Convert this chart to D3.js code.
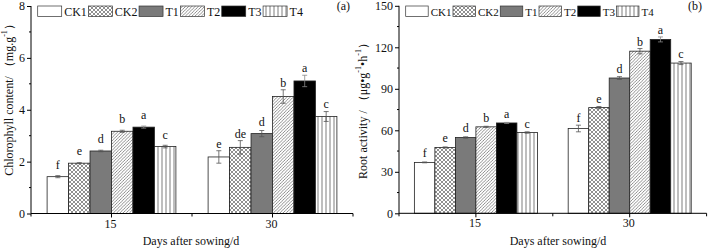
<!DOCTYPE html>
<html lang="en">
<head>
<meta charset="UTF-8">
<title>Chlorophyll and root activity</title>
<script src="https://cdn.jsdelivr.net/npm/d3@7/dist/d3.min.js"></script>
<style>
  body { margin: 0; background: #fff; }
  text { font-family: "Liberation Serif", "Times New Roman", serif; fill: #111; }
</style>
</head>
<body>
<svg id="chart" width="709" height="250"></svg>
<script>
// ---- data ----
const treatments = ['CK1', 'CK2', 'T1', 'T2', 'T3', 'T4']
const days = ['15', '30']

const chl15 = [1.42, 1.94, 2.41, 3.17, 3.33, 2.58]
const chl15Err = [0.04, 0.02, 0.03, 0.04, 0.04, 0.05]
const chl15Sig = ['f', 'e', 'd', 'b', 'a', 'c']
const chl30 = [2.18, 2.55, 3.08, 4.51, 5.11, 3.74]
const chl30Err = [0.24, 0.26, 0.12, 0.26, 0.22, 0.19]
const chl30Sig = ['e', 'de', 'd', 'b', 'a', 'c']

const root15 = [36.8, 47.6, 54.8, 62.5, 65.3, 58.4]
const root15Err = [0.3, 0.4, 0.5, 0.4, 0.4, 0.5]
const root15Sig = ['f', 'e', 'd', 'b', 'a', 'c']
const root30 = [61.3, 76.4, 97.8, 117.2, 125.7, 108.6]
const root30Err = [2.4, 0.8, 1.0, 1.9, 1.8, 1.1]
const root30Sig = ['f', 'e', 'd', 'b', 'a', 'c']

const chlTicks = [0, 2, 4, 6, 8]
const rootTicks = [0, 30, 60, 90, 120, 150]

const svg = d3.select('#chart')
const defs = svg.append('defs')

// hatch patterns
const pCross = defs.append('pattern').attr('id', 'cross')
  .attr('width', 4).attr('height', 4).attr('patternUnits', 'userSpaceOnUse')
pCross.append('rect').attr('width', 4).attr('height', 4).attr('fill', '#fff')
pCross.append('path').attr('d', 'M0,0L4,4M4,0L0,4')
  .attr('stroke', '#444').attr('stroke-width', 0.6)

const pDiag = defs.append('pattern').attr('id', 'diag')
  .attr('width', 3.2).attr('height', 3.2).attr('patternUnits', 'userSpaceOnUse')
pDiag.append('rect').attr('width', 3.2).attr('height', 3.2).attr('fill', '#fff')
pDiag.append('path').attr('d', 'M-0.8,0.8L0.8,-0.8M0,3.2L3.2,0M2.4,4L4,2.4')
  .attr('stroke', '#444').attr('stroke-width', 0.6)

const pVert = defs.append('pattern').attr('id', 'vert')
  .attr('width', 4).attr('height', 4).attr('patternUnits', 'userSpaceOnUse')
pVert.append('rect').attr('width', 4).attr('height', 4).attr('fill', '#fff')
pVert.append('path').attr('d', 'M2,0L2,4')
  .attr('stroke', '#444').attr('stroke-width', 0.7)

const fills = ['#fff', 'url(#cross)', '#7a7a7a', 'url(#diag)', '#000', 'url(#vert)']

function panel(opt) {
  const g = svg.append('g')

  const x = d3.scaleBand().domain(days).range([opt.x0, opt.x1])
    .paddingInner(0.2).paddingOuter(0.1)
  const x1 = d3.scaleBand().domain(treatments).range([0, x.bandwidth()])
  const y = d3.scaleLinear().domain(opt.domain).range([opt.yBottom, opt.yTop])

  // bars
  opt.series.forEach((s, di) => {
    const day = days[di]
    treatments.forEach((t, i) => {
      const bx = x(day) + x1(t)
      const bw = x1.bandwidth()
      g.append('rect')
        .attr('x', bx).attr('y', y(s.values[i]))
        .attr('width', bw).attr('height', y(0) - y(s.values[i]))
        .attr('fill', fills[i]).attr('stroke', '#222').attr('stroke-width', 0.8)

      const cx = bx + bw / 2
      const hi = y(s.values[i] + s.err[i]), lo = y(s.values[i] - s.err[i])
      g.append('path')
        .attr('d', `M${cx},${lo}L${cx},${hi}M${cx - 2.5},${hi}L${cx + 2.5},${hi}M${cx - 2.5},${lo}L${cx + 2.5},${lo}`)
        .attr('stroke', i === 4 ? '#888' : '#555').attr('stroke-width', 0.8).attr('fill', 'none')

      const ly = Math.min(hi - 3, y(s.values[i]) - opt.letterGap)
      g.append('text').text(s.sig[i])
        .attr('x', cx).attr('y', ly)
        .attr('text-anchor', 'middle').attr('font-size', '12px')
    })
  })

  // y axis
  const yAxis = d3.axisLeft(y).tickValues(opt.ticks).tickSize(4).tickPadding(2)
  const ya = g.append('g').attr('transform', `translate(${opt.x0},0)`).call(yAxis)
  ya.select('.domain').attr('d', `M0,${opt.yBottom}V${opt.yTop}`)
  ya.selectAll('text').attr('font-size', '12px')
  const minor = d3.pairs(opt.ticks).map(p => (p[0] + p[1]) / 2)
  ya.selectAll('.minor').data(minor).join('line')
    .attr('x1', -2).attr('x2', 0).attr('y1', d => y(d)).attr('y2', d => y(d))
    .attr('stroke', '#000')

  // x axis
  const xa = g.append('g').attr('transform', `translate(0,${opt.yBottom})`)
  xa.append('line').attr('x1', opt.x0).attr('x2', opt.x1).attr('stroke', '#000')
  const step = x.step()
  const bounds = [opt.x0, opt.x0 + step, opt.x1]
  xa.selectAll('.bt').data(bounds).join('line')
    .attr('x1', d => d).attr('x2', d => d).attr('y1', 0).attr('y2', 3).attr('stroke', '#000')
  xa.selectAll('.mt').data(days).join('line')
    .attr('x1', d => x(d) + x.bandwidth() / 2).attr('x2', d => x(d) + x.bandwidth() / 2)
    .attr('y1', 0).attr('y2', 4).attr('stroke', '#000')
  xa.selectAll('.tl').data(days).join('text')
    .attr('x', d => x(d) + x.bandwidth() / 2 - 1).attr('y', 14)
    .attr('text-anchor', 'middle').attr('font-size', '12px').text(d => d)

  g.append('text').text('Days after sowing/d')
    .attr('x', opt.xTitleX).attr('y', 245)
    .attr('text-anchor', 'middle').attr('font-size', '12px')

  // y title
  const yt = g.append('text')
    .attr('transform', `translate(${opt.yTitle[0]},${opt.yTitle[1]}) rotate(-90)`)
    .attr('text-anchor', 'middle').attr('dominant-baseline', 'central')
    .attr('font-size', '12px')
  opt.yLabel.forEach(part => {
    const ts = yt.append('tspan').text(part.t)
    if (part.sup) ts.attr('baseline-shift', 'super').attr('font-size', '8px')
  })

  // legend
  let lx = opt.legendX
  treatments.forEach((t, i) => {
    g.append('rect').attr('x', lx).attr('y', 6)
      .attr('width', opt.boxW).attr('height', 10.5)
      .attr('fill', fills[i]).attr('stroke', '#333').attr('stroke-width', 0.7)
    const tx = g.append('text').text(t)
      .attr('x', lx + opt.boxW + 2.5).attr('y', 15.5).attr('font-size', opt.legendFont)
    lx += opt.boxW + 2.5 + tx.node().getComputedTextLength() + 1.5
  })

  g.append('text').text(opt.tag)
    .attr('x', opt.tagX).attr('y', 10).attr('text-anchor', 'end').attr('font-size', '12px')
}

panel({
  x0: 31, x1: 353, yTop: 6, yBottom: 213.5, domain: [0, 8], ticks: chlTicks,
  series: [
    { values: chl15, err: chl15Err, sig: chl15Sig },
    { values: chl30, err: chl30Err, sig: chl30Sig }
  ],
  letterGap: 8,
  xTitleX: 191,
  yTitle: [8.5, 97],
  yLabel: [{ t: 'Chlorophyll content/ （mg.g' }, { t: '-1', sup: true }, { t: '）' }],
  legendX: 37.7, boxW: 24, legendFont: '12px',
  tag: '(a)', tagX: 350
})

panel({
  x0: 399, x1: 706.6, yTop: 5.8, yBottom: 213.3, domain: [0, 150], ticks: rootTicks,
  series: [
    { values: root15, err: root15Err, sig: root15Sig },
    { values: root30, err: root30Err, sig: root30Sig }
  ],
  letterGap: 5,
  xTitleX: 558,
  yTitle: [363, 108],
  yLabel: [{ t: 'Root activity / （μg•g' }, { t: '-1', sup: true }, { t: '•h' }, { t: '-1', sup: true }, { t: '）' }],
  legendX: 405.7, boxW: 22.5, legendFont: '11px',
  tag: '(b)', tagX: 702
})
</script>
</body>
</html>
